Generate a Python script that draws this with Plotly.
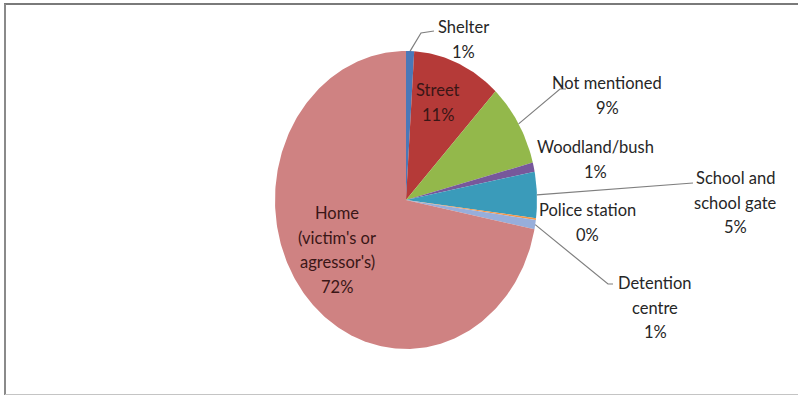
import numpy as np
import plotly.graph_objects as go

# ---- data ----
categories = ["Shelter", "Street", "Not mentioned", "Woodland/bush",
              "School and school gate", "Police station", "Detention centre",
              "Home (victim's or agressor's)"]
values = [1, 11, 9, 1, 5, 0.2, 1, 72]
label_lines = [["Shelter"], ["Street"], ["Not mentioned"], ["Woodland/bush"],
               ["School and", "school gate"], ["Police station"],
               ["Detention", "centre"], ["Home", "(victim's or", "agressor's)"]]

# ---- style / layout ----
colors = ["#4A78B8", "#B53A38", "#93B84B", "#77589B", "#3A9BBA", "#F79646",
          "#97AEDB", "#CF8282"]
W, H = 798, 396
cx, cy, rx, ry = 406, 200, 131, 149
# label centre x and first-line y (pixels)
label_pos = [(463, 27), (438, 90), (607, 83), (595, 147), (735, 178),
             (587, 210), (655, 283), (337, 213)]
label_inside = [False, True, False, False, False, False, False, True]
line_gap = 24.5
font_size = 16.5
# leader line elbows (None = no leader line)
leader_elbows = [[(421, 33), (434, 31)], None, [(560, 89), (566, 89)], None,
                 [(693, 183)], None, [(608, 284), (613, 284)], None]

total = sum(values)
fracs = [v / total for v in values]
cum = np.concatenate([[0], np.cumsum(fracs)])

fig = go.Figure()
for i, name in enumerate(categories):
    t0, t1 = cum[i] * 2 * np.pi, cum[i + 1] * 2 * np.pi
    n = max(3, int((t1 - t0) / (2 * np.pi) * 400))
    th = np.linspace(t0, t1, n)
    xs = np.concatenate([[cx], cx + rx * np.sin(th), [cx]])
    ys = np.concatenate([[cy], cy - ry * np.cos(th), [cy]])
    fig.add_trace(go.Scatter(x=xs, y=ys, mode="lines", fill="toself",
                             fillcolor=colors[i], line=dict(width=0, color=colors[i]),
                             name=name, hoverinfo="name", showlegend=False))

annotations = []
shapes = []
for i, name in enumerate(categories):
    pct = f"{round(fracs[i] * 100):.0f}%"
    lines = label_lines[i] + [pct]
    x0, y0 = label_pos[i]
    col = "#3a1616" if label_inside[i] else "#262626"
    for k, ln in enumerate(lines):
        annotations.append(dict(x=x0, y=y0 + k * line_gap, xref="x", yref="y",
                                text=ln, showarrow=False,
                                font=dict(family="Lato", size=font_size, color=col)))
    if leader_elbows[i]:
        tm = (cum[i] + cum[i + 1]) * np.pi
        pts = [(cx + rx * np.sin(tm), cy - ry * np.cos(tm))] + leader_elbows[i]
        path = "M " + " L ".join(f"{px:.1f},{py:.1f}" for px, py in pts)
        shapes.append(dict(type="path", path=path, xref="x", yref="y",
                           line=dict(color="#7f7f7f", width=1.2)))

# frame
shapes += [
    dict(type="line", xref="x", yref="y", x0=4, x1=800, y0=4, y1=4,
         line=dict(color="#7a7a7a", width=2)),
    dict(type="line", xref="x", yref="y", x0=5, x1=5, y0=4, y1=395,
         line=dict(color="#8a8a8a", width=2)),
    dict(type="line", xref="x", yref="y", x0=5, x1=800, y0=394.5, y1=394.5,
         line=dict(color="#c4c4c4", width=1)),
]

fig.update_layout(
    width=W, height=H, margin=dict(l=0, r=0, t=0, b=0),
    paper_bgcolor="white", plot_bgcolor="white",
    xaxis=dict(range=[0, W], visible=False, fixedrange=True),
    yaxis=dict(range=[H, 0], visible=False, fixedrange=True),
    annotations=annotations, shapes=shapes, showlegend=False,
)
fig.write_html("out.html", config={"displayModeBar": False},
               post_script="document.body.style.margin='0';document.body.style.overflow='hidden';")
